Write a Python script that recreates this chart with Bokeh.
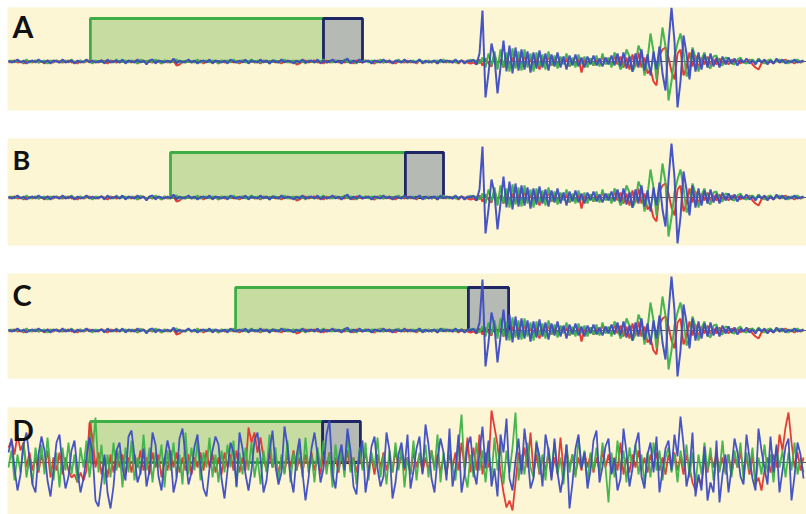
from bokeh.plotting import figure
from bokeh.layouts import column
from bokeh.models import Label, Range1d
from bokeh.embed import file_html
from bokeh.resources import INLINE

# ---------------- data ----------------
panels = ["A", "B", "C", "D"]

# analysis windows (sample units): green window start, split, grey window end, window height
green_start = [27.3, 54.0, 75.7, 27.3]
win_split = [105.0, 132.3, 153.3, 104.7]
gray_end = [118.0, 145.0, 166.7, 117.3]
box_top = [43, 45, 43, 41]

# event traces shown in A, B, C (same record)
blue_abc = [
    1, -1, 0, 2, -1, 1, -2, 0, 1, -1, 2, 0, -1, 1, -2, 1, 0, -1, 2, -1,
    0, 1, -2, 1, -1, 0, 2, -1, 1, -1, 0, 1, -2, 2, -1, 0, 1, -1, 2, -2,
    1, 0, -1, 2, -1, 1, -3, 1, 2, -2, 1, 0, -1, 1, -1, 3, -2, 1, -1, 0,
    2, -1, 1, -2, 0, 1, -1, 2, -2, 1, 0, -1, 1, -2, 2, 0, -1, 1, -1, 2,
    -2, 1, 0, -1, 2, -1, 1, -2, 1, 0, -1, 2, -1, 1, 0, -2, 1, -1, 2, -1,
    0, 1, -1, 2, -2, 1, -1, 0, 2, -1, 1, -2, 1, 3, -2, 1, -1, 2, -1, 0,
    1, -2, 1, 0, -1, 2, -1, 1, -2, 1, 0, -1, 2, -1, 1, -1, 0, 2, -2, 1,
    -1, 0, 1, -2, 2, -1, 1, 0, -1, 2, -1, 1, -2, 1, 0,
    2, -3, 8, 51, -36, -12, 18, 4, -32, -6, 21, -10, 16, -12, 14, -9, 12, -8, 10, -11, 9,
    -7, 11, -6, 8, -9, 7, -5, 9, -6, 5, -8, 6, -4, 7, -5, 4, -6, 5, -3, 6, -4, 3, -5, 4, -3,
    6, -4, 8, -5, 9, -7, 5, -10, 8, -6, 12, -9, 7, -14, 10,
    -8, 15, -12, -29, 18, 54, 20, -46, -20, 26, 8, -18, 12,
    -10, 9, -8, 7, -6, 8, -5, 4, -6, 5, -3, 4,
    -2, 3, -4, 2, -1, 3, -2, 1, -3, 2, -1, 2, -3, 1, -2, 3, -1, 2, -2, 1, -1, 2, -1, 0, 1,
]
green_abc = [
    0, 1, -1, 1, 0, -1, 2, -1, 0, 1, -1, 0, 1, -2, 1, 0, 1, -1, 0, 1,
    -1, 2, -1, 0, 1, -1, 1, 0, -2, 1, 0, 1, -1, 1, 0, -1, 2, -1, 0, 1,
    -1, 1, 0, -2, 2, 0, -1, 1, -1, 2, 0, -2, 1, 0, -1, 1, 2, -1, 0, -1,
    1, 0, -1, 2, -1, 0, 1, -1, 1, 0, -2, 1, 0, 1, -1, 2, -1, 0, 1, -1,
    0, 2, -1, 1, -1, 0, 1, -2, 1, 1, -1, 0, 2, -1, 0, 1, -1, 1, 0, -2,
    1, 0, -1, 1, 0, 2, -1, 0, -1, 1, 0, -1, 2, -1, 1, 0, -2, 1, 0, 1,
    -1, 1, 0, -1, 2, -1, 0, 1, -1, 0, 2, -1, 1, -1, 0, 1, -1, 2, 0, -1,
    1, -1, 0, 1, -1, 2, 0, -1, 1, -1, 0, 1, -1, 0, 2,
    0, 1, -2, 4, -6, 8, -4, 10, -8, 12, -6, 9, -10, 13, -7, 10, -9, 12, -6, 8, -10,
    9, -5, 7, -8, 10, -4, 6, -7, 5, -3, 8, -5, 4, -6, 7, -3, 5, -6, 3, -4, 6, -5, 8, -3, 4,
    -6, 9, 2, -8, -3, 12, 5, -10, -4, 16, 8, -14, 2, 28, 10,
    -18, 6, 34, 15, -39, -20, 5, 18, 28, 10, -15, -8, 14,
    4, -10, 2, 9, -4, -7, 5, 6, -3, -4, 4, 3,
    -2, -3, 2, 4, -1, -2, 1, 2, -1, 3, 0, -2, 1, 2, -1, 0, 2, -1, 1, -2, 1, 0, 2, -1, 1,
]
red_abc = [
    -1, 0, 1, -1, 0, -2, 1, 0, -1, 1, -1, 0, -2, 1, 0, -1, 1, 0, -1, 0,
    1, -1, 0, -2, 1, -1, 0, 1, -1, 0, -1, 1, 0, -2, 1, 0, -1, 0, 1, -1,
    0, -1, 1, -2, 0, 1, -1, 0, -1, 1, 0, -2, 1, -1, 0, 1, -4, -3, 0, -1,
    1, -1, 0, -1, 1, -2, 0, 1, -1, 0, -2, 1, -1, 0, 1, -1, 0, -2, 1, 0,
    -1, 1, -1, 0, -2, 1, 0, -1, 1, -1, 0, -2, 1, 0, -1, 1, -3, -2, 0, 1,
    -1, 0, 1, -1, 0, -2, 1, -1, 0, 1, -1, 0, -1, 1, 0, -2, 1, 0, -1, 1,
    0, -1, -2, 1, 0, -1, 1, -1, 0, -2, 1, 0, -1, 1, -1, 0, -2, 1, 0, -1,
    1, -1, 0, -2, 1, 0, -1, 1, -1, 0, -2, 1, 0, -1, -2,
    -1, -3, 2, -4, 3, -2, -5, 6, -3, 2, -6, 5, -3, 4, -5, 3, -2, 5, -4, 2, -3,
    4, -8, 3, -2, 5, -4, 2, -3, 4, -2, 3, -5, 2, -3, 4, -11, 2, -2, 3, -4, 2, -3, 5, -2, 3,
    -4, 6, -3, 5, -6, 4, -8, 7, -5, 9, -6, 4, -12, -8, -20,
    -24, 6, 12, 14, 4, -10, -18, 8, 12, -14, -6, 9, -5,
    6, -7, 4, -3, 5, -4, 2, -3, 3, -2, 1, -3,
    2, -1, 1, -2, 0, -1, 2, -3, -6, -8, -2, 1, -1, 0, -2, 1, -1, 0, 2, -1, 0, -2, 1, -1, 0,
]

# noisy record shown in D
blue_d = [
    10, 24, -6, -28, -12, 18, 30, 4, -22, -30, 8, 26, 12, -18, -34, -8, 20, 28, -4, -26,
    -14, 12, 22, -8, -30, -16, 6, 25, 10, -38, -44, -20, 8, -30, -46, -24, 12, 20, -6, -18,
    26, 32, 6, -20, -10, 14, -24, -8, 30, 18, -14, -28, 2, 22, 8, -30, -16, 24, 34, 6,
    -22, -10, 16, 28, -4, -26, -34, -6, 12, 26, 18, -16, -36, -8, 20, 10, -24, 30, 14, -12,
    -28, -8, 22, 30, 4, -30, -18, 10, 32, -4, -22, -10, 36, 16, -14, -30, 6, 24, -10, -38,
    -16, 14, 30, 8, -20, -6, 28, 42, -12, -26, 4, 18, -8, 34, 12, -24, -32, 10, 22, -30,
    -10, 16, 26, -6, -24, -14, 30, 12, -36, -20, 8, 20, -6, 28, -26, -8, 14, 26, -12, 38,
    18, -16, -30, 4, 24, 10, -18, 34, -24, -6, 28, -30, -12, 16, 26, -8, -22, 10, 36, -6,
    22, -24, -6, -34, 28, 10, 44, -16, -28, 2, 24, -12, 34, 8, -26, -16, 20, 6, -24, 28,
    12, -18, 24, -10, -30, -12, 18, -46, -20, 14, 28, -6, 10, -26, -8, 22, 32, -20, -4, 16,
    24, -12, 4, -28, -16, 34, 10, -24, -6, 18, 30, -14, -26, 8, 20, -10, 26, -30, -8, 14,
    22, -8, 28, 6, 46, 18, -24, -8, 30, -34, -12, -28, 16, -38, -20, -30, 22, -40, -12, 8,
    -30, -6, 24, 10, -14, -22, 28, 4, -16, -28, 34, 12, -6, -22, 26, -10, 18, -30, -8, 16,
    24, -38, -14, 20, 8, -16,
]
green_d = [
    -5, 12, -18, 8, -10, 20, -15, 5, -22, 15, -8, 18, -12, 25, -5, -18, 10, -25, 15, -8,
    20, -12, 8, -20, 15, -5, 22, -15, 10, 45, -10, 18, -22, 8, -15, 20, -8, 12, -25, 15,
    -10, 22, -18, 5, -12, 28, -8, 15, -20, 10, -5, 18, -25, 12, -8, 20, -15, 8, -22, 30,
    -12, 15, -8, 22, -18, 10, -5, 25, -15, 8, -20, 12, -10, 18, -5, 22, -25, 10, -12, 15,
    -8, 20, -15, 5, -22, 12, -10, 28, -5, 15, -18, 8, -12, 22, -20, 10, -8, 18, -15, 25,
    -10, 8, -20, 15, -5, 22, -12, 10, -25, 18, -8, 12, -15, 30, -10, 5, -22, 15, -8, 20,
    -18, 10, -5, 25, -15, 8, -22, 12, -10, 20, -8, 15, -25, 5, -12, 22, -18, 10, -5, 18,
    -15, 12, -8, 28, -20, 10, -12, 18, -5, -18, 15, 48, -10, -25, 8, -15, 20, -8, 12, -20,
    10, -15, 25, -8, 18, -22, 12, -10, 15, 50, -18, 8, -12, 20, -5, -15, 22, -10, 8, -18,
    15, -8, 20, -12, 5, -22, 18, -10, 8, -15, 25, -5, 12, -20, 10, -8, 15, -12, 20, -5,
    -40, 10, -15, 22, -8, 12, -20, 15, -5, 18, -12, 8, -22, 10, -15, 20, -8, 12, -18, 5,
    15, -10, 8, -20, 12, -5, 18, -15, 10, -22, 8, -12, 20, -8, 15, -18, 5, -10, 22, -12,
    8, -15, 12, -5, 20, -18, 10, -8, 15, -22, 5, -12, 18, -10, 8, -20, 15, -5, 12, -15,
    10, -8, 20, -12, 5, -10,
]
red_d = [
    15, 22, 8, 28, 12, 20, -5, 10, -8, 5, -10, 8, -5, 12, -15, 5, -8, 10, -12, 5,
    -8, -15, -12, -20, -10, -18, -8, 40, 25, -5, 10, -12, 5, -15, 8, -10, 12, -5, 8, -12,
    5, -10, 8, -5, 12, -8, 5, -12, 10, -5, 8, -15, 5, -8, 12, -5, 10, -10, 5, -8,
    8, -12, 5, -5, 10, -8, 12, -5, 8, -10, 5, -12, 10, -5, 8, -8, 12, -10, 5, -8,
    35, 20, 30, 10, 25, 5, -8, 10, -5, 8, -12, 5, -10, 8, -5, 12, -8, 5, -10, 8,
    -5, 10, -8, 5, -12, 8, -5, 10, -8, 5, -10, 8, -5, 12, -8, 5, -10, 8, -5, 10,
    -8, 5, -12, 8, -5, 10, -8, 5, -10, 12, -5, 8, -8, 5, -12, 10, -5, 8, -10, 5,
    -8, 12, -5, 8, -10, 5, -12, 8, -5, 10, -8, 20, -5, 25, -10, 15, -8, 28, -12, 10,
    -5, 52, 35, 18, -10, -30, -45, -38, -48, -20, 10, -8, 15, -5, 30, -10, 8, -12, 5, -8,
    10, -15, 5, -10, 25, -8, 12, -5, 8, -12, 5, -8, 10, -5, 8, -10, 5, -8, 12, -5,
    8, -10, 5, -8, 20, -12, 5, -10, 8, -5, 12, -8, 5, -10, 8, -5, 10, -8, 5, -12,
    8, -5, 10, -8, 5, -12, 8, -5, -20, -28, -15, -22, 5, -10, 8, -5, 10, -8, 5, -10,
    8, -12, 5, -5, 10, -8, 5, -12, 8, -22, -15, -28, -8, 5, -10, 8, -5, 28, 12, 35,
    50, 20, -5, 10, -8, 5,
]

series = {
    "abc": (red_abc, green_abc, blue_abc),
    "d": (red_d, green_d, blue_d),
}
for k, arrs in series.items():
    for a in arrs:
        assert len(a) == 266, (k, [len(b) for b in arrs])

samples = list(range(266))

# ---------------- styling / layout ----------------
CREAM = "#FDF6D4"
TRACE_COLORS = ["#E3342B", "#3DB24A", "#3C4CC2"]
fig_heights = [138, 135, 134, 107]
tops = [7, 0, 0, 0]
gaps = [28, 28, 29, 0]
y_ranges = [(-49, 54), (-48, 59), (-48, 57), (-52, 55)]
label_y = [36, 38, 36, 33]
label_size = ["30px", "27px", "29px", "28px"]

figs = []
for k, name in enumerate(panels):
    p = figure(width=806, height=fig_heights[k], output_backend="svg",
               toolbar_location=None, x_axis_type=None, y_axis_type=None,
               x_range=Range1d(-0.333, 266.0), y_range=Range1d(*y_ranges[k]))
    p.min_border = 0
    p.min_border_left = 7
    p.min_border_top = tops[k]
    p.min_border_bottom = gaps[k]
    p.background_fill_color = CREAM
    p.border_fill_color = "white"
    p.outline_line_color = None
    p.grid.visible = False

    # windows
    p.quad(left=[green_start[k]], right=[win_split[k]], bottom=[0], top=[box_top[k]],
           fill_color="#C6DCA0", line_color="#3DAE45", line_width=2.8)
    p.quad(left=[win_split[k]], right=[gray_end[k]], bottom=[0], top=[box_top[k]],
           fill_color="#B5BAB5", line_color="#1E2666", line_width=2.8)

    # zero line
    p.line([0, 266], [0, 0], line_color="#4A5560", line_width=1)

    arrs = series["d"] if name == "D" else series["abc"]
    for a, c in zip(arrs, TRACE_COLORS):
        p.line(samples, a, line_color=c, line_width=2.0 if name != "D" else 1.8,
               line_alpha=0.95)

    p.add_layout(Label(x=1.3, y=label_y[k],
                       text=name, text_font="Lato", text_font_style="bold",
                       text_font_size=label_size[k], text_color="#111111",
                       text_baseline="alphabetic"))
    figs.append(p)

layout = column(*figs, spacing=0)
open("out.html", "w").write(file_html(layout, INLINE))
